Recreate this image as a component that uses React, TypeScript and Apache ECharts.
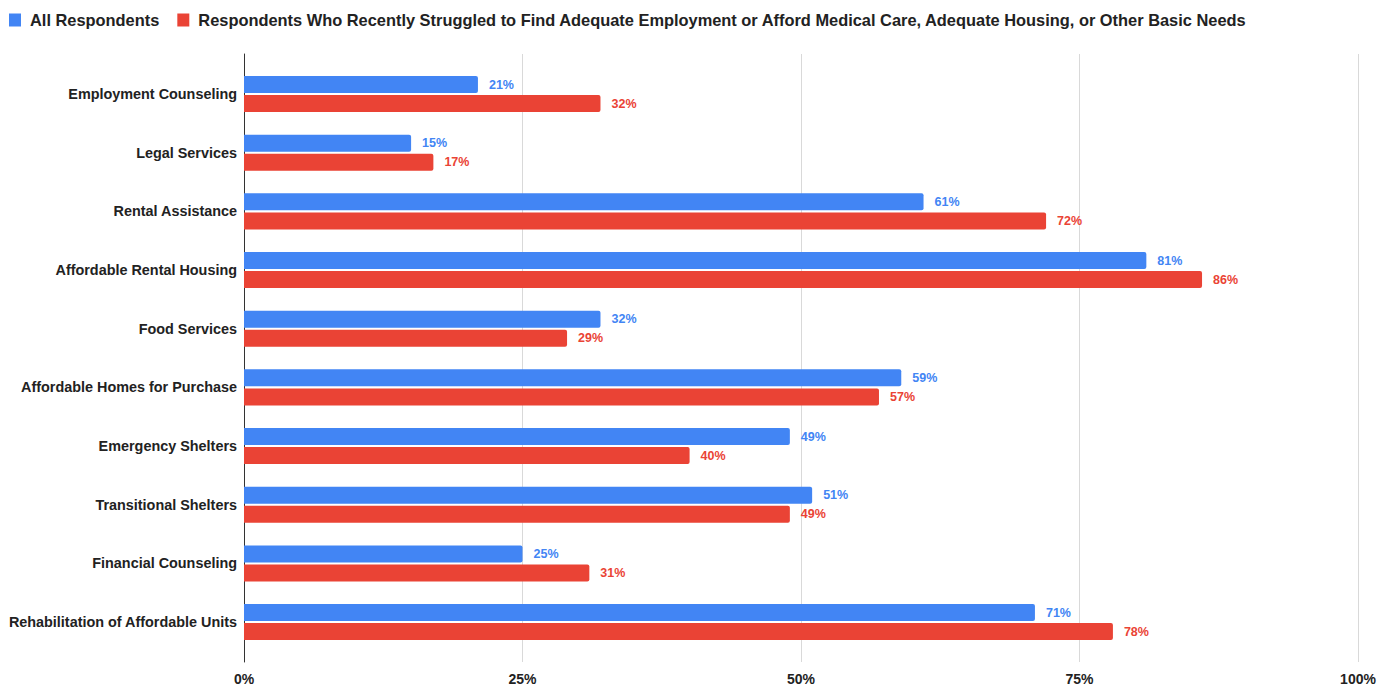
import React, { useEffect, useRef } from "react";
import * as echarts from "echarts";

const categories = [
  "Employment Counseling",
  "Legal Services",
  "Rental Assistance",
  "Affordable Rental Housing",
  "Food Services",
  "Affordable Homes for Purchase",
  "Emergency Shelters",
  "Transitional Shelters",
  "Financial Counseling",
  "Rehabilitation of Affordable Units",
];
const allRespondents = [21, 15, 61, 81, 32, 59, 49, 51, 25, 71];
const struggled = [32, 17, 72, 86, 29, 57, 40, 49, 31, 78];
const seriesNames = [
  "All Respondents",
  "Respondents Who Recently Struggled to Find Adequate Employment or Afford Medical Care, Adequate Housing, or Other Basic Needs",
];
const colors = ["#4285F4", "#EA4335"];
const FONT = "'Liberation Sans', Arial, sans-serif";

export default function App() {
  const ref = useRef<HTMLDivElement>(null);
  useEffect(() => {
    if (!ref.current) return;
    const chart = echarts.init(ref.current, undefined, { renderer: "svg" });
    const label = (c: string) => ({
      show: true,
      position: "right",
      distance: 11,
      color: c,
      fontFamily: FONT,
      fontWeight: "bold",
      fontSize: 12.5,
      formatter: (p: any) => `${p.value}%`,
    });
    chart.setOption({
      animation: false,
      textStyle: { fontFamily: FONT },
      legend: {
        left: 4,
        top: 7,
        itemWidth: 12,
        itemHeight: 13,
        itemGap: 18,
        icon: "rect",
        textStyle: {
          fontFamily: FONT,
          fontWeight: "bold",
          fontSize: 16.4,
          color: "#222",
          padding: [0, 0, 0, 4],
        },
        data: seriesNames,
      },
      grid: [
        { left: 244, right: 33, top: 64.7, height: 586.7, containLabel: false },
        { left: 244, right: 33, top: 54, bottom: 25, containLabel: false },
      ],
      xAxis: [
        { type: "value", gridIndex: 0, min: 0, max: 100, show: false },
        {
          type: "value",
          gridIndex: 1,
          min: 0,
          max: 100,
          interval: 25,
          axisLine: { show: false },
          axisTick: { show: false },
          splitLine: { show: true, lineStyle: { color: "#d9d9d9", width: 1 } },
          axisLabel: {
            formatter: "{value}%",
            fontFamily: FONT,
            fontWeight: "bold",
            fontSize: 14,
            color: "#222",
            margin: 10,
          },
        },
      ],
      yAxis: [
        {
          type: "category",
          gridIndex: 0,
          inverse: true,
          data: categories,
          axisLine: { show: false },
          axisTick: { show: false },
          splitLine: { show: false },
          axisLabel: {
            fontFamily: FONT,
            fontWeight: "bold",
            fontSize: 14.4,
            color: "#222",
            margin: 7,
          },
        },
        {
          type: "category",
          gridIndex: 1,
          inverse: true,
          data: categories,
          axisLine: { show: true, lineStyle: { color: "#333", width: 1 } },
          axisTick: { show: false },
          axisLabel: { show: false },
          splitLine: { show: false },
        },
      ],
      series: [
        {
          name: seriesNames[0],
          type: "bar",
          xAxisIndex: 0,
          yAxisIndex: 0,
          data: allRespondents,
          barWidth: 17,
          barGap: "12%",
          itemStyle: { color: colors[0], borderRadius: [0, 2, 2, 0] },
          label: label(colors[0]),
          z: 3,
        },
        {
          name: seriesNames[1],
          type: "bar",
          xAxisIndex: 0,
          yAxisIndex: 0,
          data: struggled,
          barWidth: 17,
          barGap: "12%",
          itemStyle: { color: colors[1], borderRadius: [0, 2, 2, 0] },
          label: label(colors[1]),
          z: 3,
        },
      ],
    });
    return () => chart.dispose();
  }, []);
  return (
    <div
      ref={ref}
      style={{ position: "fixed", left: 0, top: 0, width: 1391, height: 687, background: "#fff" }}
    />
  );
}
